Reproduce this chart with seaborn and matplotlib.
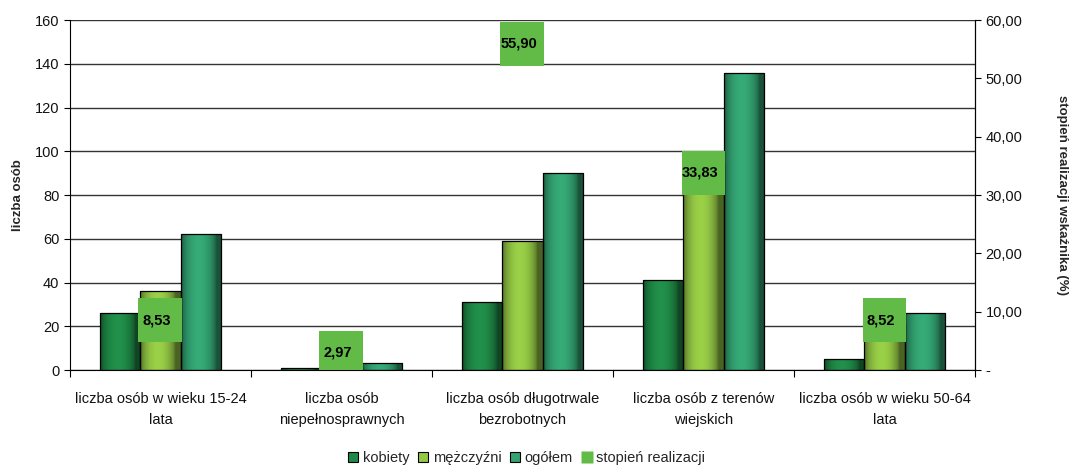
import numpy as np
import pandas as pd
import matplotlib
matplotlib.use("Agg")
import matplotlib.pyplot as plt
import seaborn as sns
from matplotlib.patches import Patch
from matplotlib.lines import Line2D
from matplotlib.colors import to_rgb

# ----------------------------
# Data
# ----------------------------
categories = [
    "liczba osób w wieku 15-24\nlata",
    "liczba osób\nniepełnosprawnych",
    "liczba osób długotrwale\nbezrobotnych",
    "liczba osób z terenów\nwiejskich",
    "liczba osób w wieku 50-64\nlata",
]
kobiety = [26, 1, 31, 41, 5]
mezczyzni = [36, 2, 59, 95, 21]
ogolem = [62, 3, 90, 136, 26]
stopien = [8.53, 2.97, 55.90, 33.83, 8.52]

series_names = ["kobiety", "mężczyźni", "ogółem"]
series_colors = ["#1f8a47", "#93c744", "#33a372"]
marker_color = "#62bb47"

df = pd.DataFrame({
    "kategoria": categories * 3,
    "seria": [s for s in series_names for _ in categories],
    "liczba": kobiety + mezczyzni + ogolem,
})

sns.set_theme(style="white")
plt.rcParams["font.family"] = ["Liberation Sans", "DejaVu Sans"]

fig = plt.figure(figsize=(10.75, 4.66), dpi=100)
ax = fig.add_axes([0.065, 0.206, 0.842, 0.751])

sns.barplot(data=df, x="kategoria", y="liczba", hue="seria", order=categories,
            hue_order=series_names, palette=series_colors, width=0.67,
            edgecolor="black", linewidth=0.9, legend=False, ax=ax)

# gradient fill for cylinder-like bars
def shade(c, f):
    r = np.array(to_rgb(c))
    return np.clip(r * f, 0, 1)

for cont, col in zip(ax.containers, series_colors):
    for bar in cont:
        x, w, h = bar.get_x(), bar.get_width(), bar.get_height()
        if h <= 0:
            continue
        t = np.linspace(0, 1, 60)
        prof = 0.5 + 0.55 * np.sin(np.pi * np.clip(t * 1.15, 0, 1)) ** 0.6
        prof = np.minimum(prof, 1.05)
        img = np.array([[shade(col, f) for f in prof]])
        im = ax.imshow(img, extent=[x, x + w, 0, h], aspect="auto",
                       interpolation="bilinear", zorder=1.5)
        im.set_clip_path(bar)
        bar.set_facecolor("none")
        bar.set_zorder(2)

ax.set_xlim(-0.5, 4.5)
ax.set_ylim(0, 160)
ax.set_yticks(range(0, 161, 20))
ax.set_axisbelow(True)
ax.yaxis.grid(True, color="#333333", linewidth=1.0)
ax.set_xlabel("")
ax.set_ylabel("liczba osób", fontsize=9.5, fontweight="bold", labelpad=8)
ax.tick_params(axis="y", labelsize=10.5, left=True, length=4, width=0.8,
               color="black", labelcolor="#111111")
ax.tick_params(axis="x", labelsize=10.5, bottom=False, pad=10, labelcolor="#111111")
for lbl in ax.get_xticklabels():
    lbl.set_linespacing(1.6)
ax.set_xticks(np.arange(-0.5, 5.0, 1.0), minor=True)
ax.tick_params(axis="x", which="minor", bottom=True, length=5, width=0.8, color="black")
ax.spines["top"].set_visible(False)
for s in ["left", "right", "bottom"]:
    ax.spines[s].set_color("black")
    ax.spines[s].set_linewidth(0.8)

# secondary axis: stopień realizacji
ax2 = ax.twinx()
ax2.set_ylim(0, 60)
ax2.set_yticks(range(0, 61, 10))
ax2.set_yticklabels(["-" if v == 0 else f"{v:.2f}".replace(".", ",") for v in range(0, 61, 10)])
ax2.tick_params(axis="y", labelsize=10.5, right=True, length=4, width=0.8,
                color="black", labelcolor="#111111")
ax2.set_ylabel("stopień realizacji wskaźnika (%)", fontsize=9.5, fontweight="bold",
               rotation=270, labelpad=33)
for s in ["top", "left", "bottom"]:
    ax2.spines[s].set_visible(False)
ax2.spines["right"].set_color("black")
ax2.spines["right"].set_linewidth(0.8)

sns.scatterplot(x=list(range(len(categories))), y=stopien, marker="s", s=1000,
                color=marker_color, edgecolor="none", linewidth=0, zorder=5, ax=ax2)
for i, v in enumerate(stopien):
    ax2.text(i - 0.02, v, f"{v:.2f}".replace(".", ","), ha="center", va="center",
             fontsize=10.5, fontweight="bold", color="black", zorder=6)
ax2.set_xlim(-0.5, 4.5)

handles = [Patch(facecolor=c, edgecolor="black", linewidth=0.8) for c in series_colors]
handles.append(Line2D([], [], marker="s", linestyle="none", markersize=8,
                      markerfacecolor=marker_color, markeredgecolor="none"))
fig.legend(handles, series_names + ["stopień realizacji"], loc="center",
           bbox_to_anchor=(0.49, 0.017), ncol=4, frameon=False, fontsize=10.5,
           handlelength=0.7, handleheight=0.7, handletextpad=0.3, columnspacing=0.6)

fig.savefig("out.png", dpi=100)
